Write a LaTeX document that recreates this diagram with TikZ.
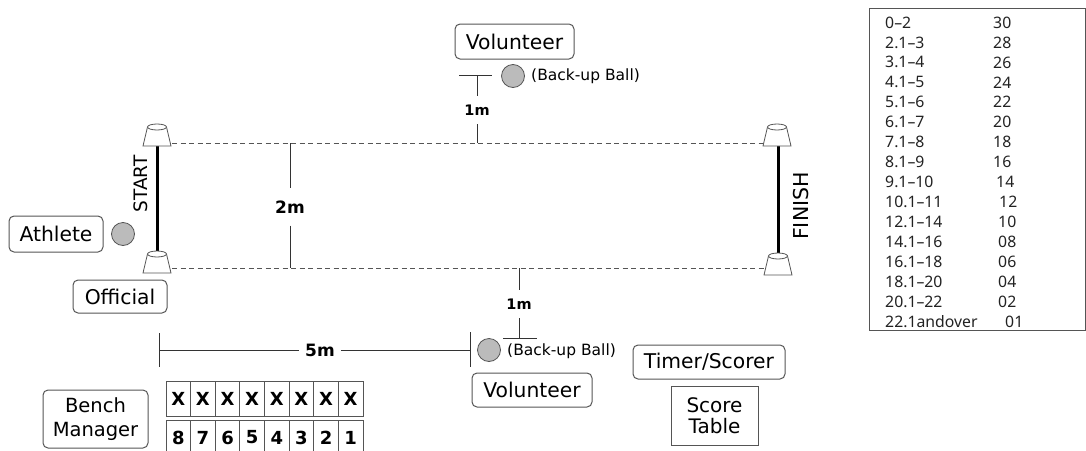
\documentclass[tikz,border=0pt]{standalone}
\usepackage{fontspec}
\setmainfont{DejaVu Sans}
\newfontfamily\tabfont{Noto Sans}
\usetikzlibrary{calc}
\definecolor{edge}{HTML}{555555}
\definecolor{ballgray}{HTML}{BBBBBB}
\definecolor{tabtext}{HTML}{222222}
\tikzset{
  role/.style={draw=edge, line width=1pt, rounded corners=5pt, inner sep=0pt, align=center,
               font=\fontsize{20.3}{22}\selectfont},
  plainbox/.style={role, rounded corners=0pt},
  ball/.style={circle, draw=edge, fill=ballgray, line width=0.8pt, minimum size=23pt, inner sep=0pt},
  balltext/.style={anchor=west, inner sep=0pt, font=\fontsize{15.5}{16}\selectfont},
  dimtext/.style={font=\bfseries\fontsize{14.5}{15}\selectfont, inner xsep=3pt, inner ysep=9pt},
  dimline/.style={draw=black!80, line width=0.8pt},
  laneline/.style={draw=edge, line width=0.9pt, dash pattern=on 5pt off 3.5pt},
  endline/.style={draw=black, line width=3pt},
  endtext/.style={rotate=90, font=\fontsize{19}{20}\selectfont},
  cellbox/.style={draw=edge, line width=0.9pt, minimum width=24.6pt, inner sep=0pt,
                  font=\bfseries\fontsize{18}{18}\selectfont},
  tabrow/.style={anchor=west, inner sep=0pt, text=tabtext, font=\tabfont\fontsize{15.8}{16}\selectfont},
  cone/.pic={
    \draw[edge, fill=white, line width=0.8pt] (-9.5,0) -- (-14,19) -- (14,19) -- (9.5,0) -- cycle;
    \draw[edge, fill=white, line width=0.8pt] (0,0) ellipse (9.5pt and 3pt);
  }
}
\begin{document}
\begin{tikzpicture}[x=1pt, y=-1pt]
\useasboundingbox (0,0) rectangle (1086,450);

% ---- lanes ----
\coordinate (tl) at (172,143); \coordinate (tr) at (768,143);
\coordinate (bl) at (172,268); \coordinate (br) at (768,268);
\draw[laneline] (tl) -- (tr);
\draw[laneline] (bl) -- (br);

% ---- start / finish lines ----
\coordinate (s1) at (157,140); \coordinate (s2) at (157,256);
\coordinate (f1) at (778,140); \coordinate (f2) at (778,258);
\draw[endline] (s1) -- (s2);
\draw[endline] (f1) -- (f2);
\pic at (157,127) {cone};
\pic at (157,254) {cone};
\pic at (777,127) {cone};
\pic at (778,256) {cone};
\node[endtext, font=\fontsize{18.5}{20}\selectfont] (start) at (141,184) {START};
\node[endtext, font=\fontsize{20.5}{20}\selectfont] (finish) at (801,206) {FINISH};

% ---- 2m ----
\coordinate (w1) at (290,143); \coordinate (w2) at (290,268);
\node[dimtext, font=\bfseries\fontsize{17}{18}\selectfont, inner ysep=12pt] (d2) at (290,207) {2m};
\draw[dimline] (w1) -- (d2.north);
\draw[dimline] (d2.south) -- (w2);

% ---- top volunteer ----
\node[role, minimum width=119pt, minimum height=35pt] (vol1) at (514.5,41.5) {Volunteer};
\node[ball] (ball1) at (513,76) {};
\node[balltext] (bb1) at (531,76) {(Back-up Ball)};
\coordinate (u0) at (477,143); \coordinate (u1) at (477,75);
\coordinate (u1l) at (459,75); \coordinate (u1r) at (492,75);
\node[dimtext] (d1a) at (477,110) {1m};
\draw[dimline] (u0) -- (d1a.south);
\draw[dimline] (d1a.north) -- (u1);
\draw[dimline] (u1l) -- (u1r);

% ---- bottom volunteer ----
\coordinate (v0) at (519,268); \coordinate (v1) at (519,338);
\coordinate (v1l) at (503,338); \coordinate (v1r) at (537,338);
\node[dimtext] (d1b) at (519,304) {1m};
\draw[dimline] (v0) -- (d1b.north);
\draw[dimline] (d1b.south) -- (v1);
\draw[dimline] (v1l) -- (v1r);
\node[ball] (ball2) at (489,350) {};
\node[balltext] (bb2) at (507,351) {(Back-up Ball)};
\node[role, minimum width=120pt, minimum height=34pt] (vol2) at (532,390) {Volunteer};

% ---- 5m ----
\coordinate (a1) at (159,333); \coordinate (a2) at (159,367);
\coordinate (b1) at (470,332); \coordinate (b2) at (470,367);
\coordinate (am) at (159,350); \coordinate (bm) at (470,350);
\draw[dimline] (a1) -- (a2);
\draw[dimline] (b1) -- (b2);
\node[dimtext, font=\bfseries\fontsize{17}{17}\selectfont, inner xsep=6pt] (d5) at (320,350) {5m};
\draw[dimline] (am) -- (d5.west);
\draw[dimline] (d5.east) -- (bm);

% ---- athlete, official ----
\node[role, minimum width=94pt, minimum height=36pt] (athlete) at (56,234) {Athlete};
\node[ball] (ball0) at (123,234) {};
\node[role, minimum width=94pt, minimum height=33pt] (official) at (120,296.5) {Official};

% ---- timer / score table ----
\node[role, minimum width=152pt, minimum height=34pt] (timer) at (709,362) {Timer/Scorer};
\node[plainbox, minimum width=87pt, minimum height=59pt, font=\fontsize{20}{21}\selectfont] (score) at (714.5,415.5) {Score\\Table};

% ---- bench ----
\node[role, minimum width=105pt, minimum height=58pt, font=\fontsize{19.5}{24}\selectfont] (bench) at (95.5,419) {Bench\\Manager};
\foreach \i/\n in {0/8,1/7,2/6,3/5,4/4,5/3,6/2,7/1} {
  \node[cellbox, minimum height=35pt] (x\i) at ({166+12.3+24.625*\i},398.5) {X};
  \node[cellbox, minimum height=35pt] (n\i) at ({166+12.3+24.625*\i},437.5) {\n};
}

% ---- scoring table ----
\draw[edge, line width=1pt] (869,8) rectangle (1085.5,330);
\foreach \r/\s/\k/\xx in {
  0/{0–2}/30/993, 1/{2.1–3}/28/993, 2/{3.1–4}/26/993, 3/{4.1–5}/24/993,
  4/{5.1–6}/22/993, 5/{6.1–7}/20/993, 6/{7.1–8}/18/993, 7/{8.1–9}/16/993,
  8/{9.1–10}/14/996, 9/{10.1–11}/12/999, 10/{12.1–14}/10/998, 11/{14.1–16}/08/998,
  12/{16.1–18}/06/998, 13/{18.1–20}/04/998, 14/{20.1–22}/02/998, 15/{22.1andover}/01/1005} {
  \node[tabrow] (r\r) at (885,{22.5+19.93*\r}) {\s};
  \node[tabrow] (k\r) at (\xx,{22.5+19.93*\r}) {\k};
}
\end{tikzpicture}
\end{document}
